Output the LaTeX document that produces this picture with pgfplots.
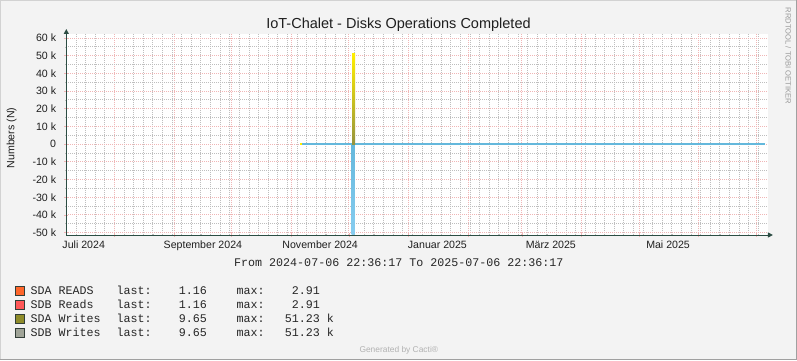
\documentclass[border=0pt]{standalone}
\usepackage{pgfplots}
\pgfplotsset{compat=1.18}
\usepackage{fontspec}
\setmainfont{Liberation Sans}
\setmonofont{Liberation Mono}
\usetikzlibrary{arrows.meta}
\definecolor{bgc}{RGB}{243,243,243}
\definecolor{framelight}{RGB}{210,210,210}
\definecolor{framedark}{RGB}{160,160,160}
\definecolor{axisc}{RGB}{44,77,67}
\definecolor{majgrid}{RGB}{240,182,182}
\definecolor{mingrid}{RGB}{190,190,190}
\definecolor{legA}{RGB}{255,102,43}
\definecolor{legB}{RGB}{255,88,88}
\definecolor{legC}{RGB}{143,140,42}
\definecolor{legD}{RGB}{160,164,152}
\definecolor{legborder}{RGB}{50,62,56}
\definecolor{bluec}{RGB}{100,184,220}
\definecolor{bluelight}{RGB}{135,205,240}
\definecolor{yelc}{RGB}{255,238,0}
\definecolor{olvc}{RGB}{150,148,60}
\begin{document}
\begin{tikzpicture}[x=1bp,y=1bp]
\fill[bgc] (0,0) rectangle (797,360);
\path[use as bounding box] (0,0) rectangle (797,360);
\fill[framelight] (0,358.5) rectangle (797,360);
\fill[framelight] (0,0) rectangle (1.5,360);
\fill[framedark] (0,0) rectangle (797,1.5);
\fill[framedark] (795.5,0) rectangle (797,360);
\begin{axis}[
  at={(66.3bp,125bp)}, anchor=south west,
  scale only axis, width=701.6bp, height=201bp,
  xmin=0, xmax=365, ymin=-51360, ymax=62330,
  scaled y ticks=false, scaled x ticks=false,
  axis x line*=bottom, axis y line*=left,
  axis line style={draw=axisc, line width=1bp},
  x axis line style={-{Triangle[length=5bp,width=5bp]}, shorten >=-5bp},
  y axis line style={-{Triangle[length=5bp,width=5bp]}, shorten >=-5bp},
  axis background/.style={fill=white},
  xtick={25.06,56.06,86.06,117.06,147.06,178.06,209.06,237.06,268.06,298.06,329.06,359.06},
  xticklabels={,,,,,,,,,,,},
  minor xtick={0.06,5.06,...,364},
  extra x ticks={9.06,71.06,132.06,193.06,252.06,313.06},
  extra x tick labels={Juli 2024,September 2024,November 2024,Januar 2025,März 2025,Mai 2025},
  extra x tick style={grid=none, major tick length=0pt},
  ytick={-50000,-40000,...,60000},
  yticklabels={-50 k,-40 k,-30 k,-20 k,-10 k,0,10 k,20 k,30 k,40 k,50 k,60 k},
  minor ytick={-45000,-35000,...,55000},
  grid=both,
  major grid style={draw=majgrid, line width=1bp, dash pattern=on 1bp off 1bp},
  minor grid style={draw=mingrid, line width=1bp, dash pattern=on 1bp off 1bp},
  tick align=center,
  major tick length=4bp, minor tick length=2bp,
  major tick style={draw=majgrid, line width=0.8bp},
  minor tick style={draw=mingrid, line width=0.8bp},
  tick label style={font=\fontsize{10.6bp}{12bp}\selectfont, text=black!88},
  xticklabel style={anchor=base, inner sep=0pt, yshift=-13bp},
  yticklabel style={anchor=east, inner sep=0pt, xshift=-8bp},
  legend cell align=left,
  legend style={at={(axis description cs:-0.07369,-0.2453)}, anchor=north west,
    draw=none, fill=none, inner sep=0pt, outer sep=0pt, row sep=0pt, column sep=0pt,
    nodes={inner sep=0pt, text height=10bp, text depth=4bp,
      font=\ttfamily\fontsize{11.67bp}{14bp}\selectfont, text=black!85, anchor=base west}},
  legend image code/.code={\draw[#1, draw=legborder, line width=0.8bp] (0.4bp,-1.4bp) rectangle (9.4bp,7.6bp);},
]
\addlegendimage{fill=legA}
\addlegendentry{\hspace*{6.3bp}\makebox[86bp][l]{SDA READS}\makebox[90.3bp][l]{last:\hfill1.16}\hspace*{29.7bp}\makebox[83.3bp][l]{max:\hfill2.91}}
\addlegendimage{fill=legB}
\addlegendentry{\hspace*{6.3bp}\makebox[86bp][l]{SDB Reads}\makebox[90.3bp][l]{last:\hfill1.16}\hspace*{29.7bp}\makebox[83.3bp][l]{max:\hfill2.91}}
\addlegendimage{fill=legC}
\addlegendentry{\hspace*{6.3bp}\makebox[86bp][l]{SDA Writes}\makebox[90.3bp][l]{last:\hfill9.65}\hspace*{29.7bp}\makebox[83.3bp][l]{max:\hfill51.23}\ k}
\addlegendimage{fill=legD}
\addlegendentry{\hspace*{6.3bp}\makebox[86bp][l]{SDB Writes}\makebox[90.3bp][l]{last:\hfill9.65}\hspace*{29.7bp}\makebox[83.3bp][l]{max:\hfill51.23}\ k}
% reads / writes at zero
\addplot[forget plot, draw=yelc, line width=2bp] coordinates {(121.6,0) (123.0,0)};
\addplot[forget plot, draw=bluec, line width=2bp] coordinates {(122.6,0) (363.5,0)};
% spikes
\addplot[forget plot, draw=none, top color=bluec, bottom color=bluelight] coordinates {(148.4,-51230) (150.0,-51230)} \closedcycle;
\addplot[forget plot, draw=none, top color=yelc, bottom color=olvc] coordinates {(148.7,51230) (150.3,51230)} \closedcycle;
\end{axis}
\node[font=\fontsize{14.5bp}{17bp}\selectfont, anchor=base, text=black!88] at (398.5,331.7) {IoT-Chalet - Disks Operations Completed};
\node[font=\fontsize{10.6bp}{12bp}\selectfont, rotate=90, anchor=base, text=black!88] at (14.3,222) {Numbers (N)};
\node[font=\ttfamily\fontsize{11.67bp}{14bp}\selectfont, anchor=base, text=black!85] at (398.8,93.7) {From 2024-07-06 22:36:17 To 2025-07-06 22:36:17};
\node[font=\fontsize{8.4bp}{10bp}\selectfont, anchor=base, text=black!30] at (398.8,8) {Generated by Cacti®};
\node[font=\fontsize{7.6bp}{9bp}\selectfont, rotate=-90, anchor=base, text=black!40] at (785.7,304) {RRDTOOL / TOBI OETIKER};
\end{tikzpicture}
\end{document}
